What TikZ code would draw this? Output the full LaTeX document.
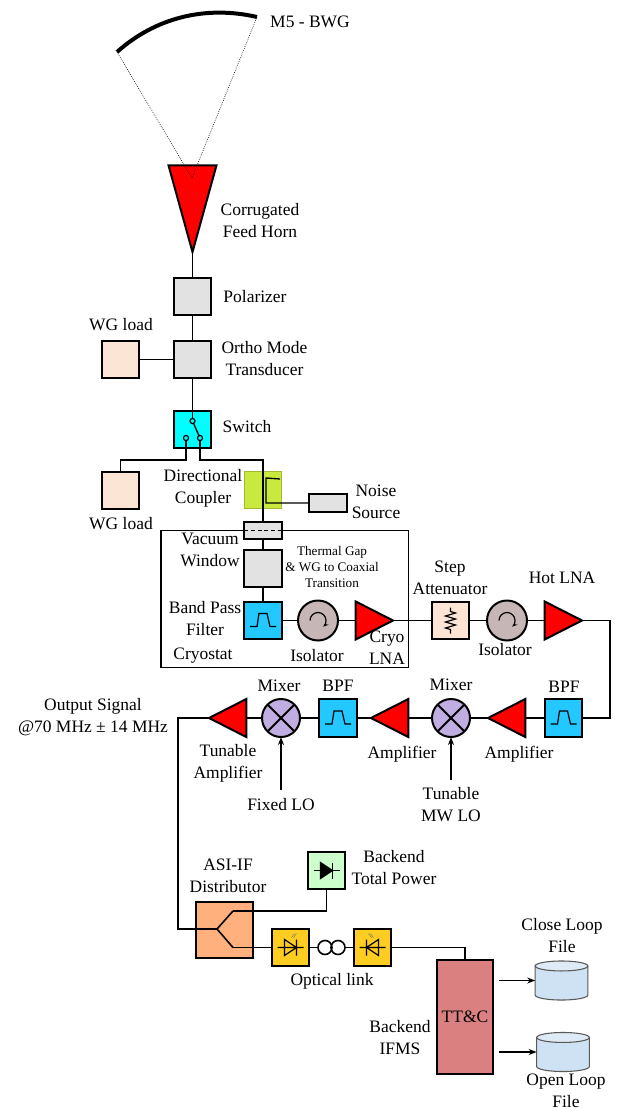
\documentclass[tikz,border=0pt]{standalone}
\usepackage{fontspec}
\setmainfont{Liberation Serif}
\usetikzlibrary{arrows.meta,shapes.geometric,calc}
\definecolor{boxgray}{HTML}{E2E2E2}
\definecolor{loadpeach}{HTML}{FDE5D6}
\definecolor{swicyan}{HTML}{00FFFF}
\definecolor{cplgreen}{HTML}{C9E93F}
\definecolor{bpfblue}{HTML}{22C8FF}
\definecolor{isotaupe}{HTML}{C6B6B6}
\definecolor{mixpurple}{HTML}{C0AEE2}
\definecolor{distorange}{HTML}{FFB07C}
\definecolor{tpgreen}{HTML}{CCFFCC}
\definecolor{ledyellow}{HTML}{FFCC22}
\definecolor{ttcred}{HTML}{DA8080}
\definecolor{filebody}{HTML}{CFE2F3}
\definecolor{filetop}{HTML}{DEEAF6}
\newcommand{\filedrum}[1]{
  \draw[draw=black!65, line width=0.8pt, fill=filebody] ([yshift=10.9pt]#1.west) -- ([yshift=-10.9pt]#1.west)
    arc[start angle=180, end angle=360, x radius=19.75pt, y radius=3.75pt] -- ([yshift=10.9pt]#1.east);
  \draw[draw=black!65, line width=0.8pt, fill=filetop] ([yshift=10.9pt]#1.center) ellipse[x radius=19.75pt, y radius=3.75pt];
}
\tikzset{
  >=Stealth,
  lbl/.style={font=\fontsize{13.1}{16.5}\selectfont, align=center, inner sep=0pt},
  lblsm/.style={font=\fontsize{9.9}{12}\selectfont, align=center, inner sep=0pt},
  blk/.style={draw, line width=1.5pt, inner sep=0pt, outer sep=0pt, minimum size=28pt},
  wire/.style={line width=1pt},
  amp/.style={isosceles triangle, isosceles triangle stretches, draw, line width=1.5pt, fill=red,
    inner sep=0pt, outer sep=0pt, minimum width=28.5pt, minimum height=28pt, anchor=apex},
  bpf/.style={blk, fill=bpfblue, path picture={
    \draw[line width=0.9pt, shift={(path picture bounding box.center)}]
      (-13,6)--(-6,6)--(-4,-7)--(4,-7)--(7,6)--(13,6);}},
  iso/.style={circle, draw, line width=1.5pt, fill=isotaupe, inner sep=0pt, outer sep=0pt, minimum size=30pt, path picture={
    \draw[line width=0.9pt, -{Stealth[length=4pt]}, shift={(path picture bounding box.center)}]
      (-8,0) arc[start angle=180, end angle=-50, radius=6pt];}},
  mix/.style={circle, draw, line width=1.5pt, fill=mixpurple, inner sep=0pt, outer sep=0pt, minimum size=28.5pt, path picture={
    \draw[line width=1.5pt] (path picture bounding box.north west)--(path picture bounding box.south east)
      (path picture bounding box.north east)--(path picture bounding box.south west);}},
  contact/.style={circle, draw, line width=0.9pt, inner sep=0pt, outer sep=0pt, minimum size=3.8pt},
  file/.style={inner sep=0pt, outer sep=0pt, minimum width=39.5pt, minimum height=29.5pt}
}

\begin{document}
\begin{tikzpicture}[x=0.75pt, y=-0.75pt]
  \useasboundingbox (0,0) rectangle (618,1109);
  % cryostat goes first, the parts sit on it
  \node[draw, line width=1pt, minimum width=185.5pt, minimum height=102.5pt, inner sep=0pt, outer sep=0pt] (cryo) at (284.5,599) {};
  % reflector and horn
  \coordinate (mirl) at (117,52);
  \coordinate (mirr) at (257,17);
  \coordinate (hornfoc) at (192,178);
  \node[amp, shape border rotate=270, minimum width=36pt, minimum height=65pt] (horn) at (192.5,252) {};
  \draw[line width=3pt] (mirl) .. controls (155,18) and (205,5) .. (mirr);
  \draw[line width=0.5pt, densely dotted] (mirl) -- (hornfoc) -- (mirr);
  % waveguide chain
  \node[blk, fill=boxgray] (pol) at (192.5,296.5) {};
  \node[blk, fill=boxgray] (omt) at (192.5,359.5) {};
  \node[blk, fill=loadpeach] (wga) at (120.5,359.5) {};
  \node[blk, fill=swicyan] (swi) at (192.5,429.5) {};
  \node[contact] (swt) at (192.5,421) {};
  \node[contact] (swl) at (186,438) {};
  \node[contact] (swr) at (200,438) {};
  \node[blk, fill=loadpeach] (wgb) at (120.5,490.5) {};
  \node[draw=cplgreen!80!black, line width=0.5pt, fill=cplgreen, minimum size=28pt, inner sep=0pt, outer sep=0pt] (cpl) at (263,490) {};
  \node[blk, fill=boxgray, minimum width=28.5pt, minimum height=13.5pt] (noise) at (328,503) {};
  \node[blk, fill=boxgray, minimum height=12.5pt] (vac) at (263,530.5) {};
  \node[blk, fill=boxgray] (thm) at (263,568.5) {};
  \coordinate (busl) at (120.5,460);
  \coordinate (busr) at (263,460);
  \coordinate (cplcor) at (266,478);
  \coordinate (cpltip) at (280,479);
  % cold and warm chain
  \node[bpf] (bpfa) at (263,620.5) {};
  \node[iso] (isoa) at (318,620.5) {};
  \node[amp] (lnaa) at (393,620.5) {};
  \node[blk, fill=loadpeach, path picture={
    \draw[line width=0.9pt, shift={(path picture bounding box.center)}]
      (0,-13)--(0,-9)--(5,-7.5)--(-5,-4.5)--(5,-1.5)--(-5,1.5)--(5,4.5)--(-5,7.5)--(0,9)--(0,13);}] (att) at (450.5,620.5) {};
  \node[iso] (isob) at (507,620.5) {};
  \node[amp] (lnab) at (582,620.5) {};
  \coordinate (rgt) at (610,620.5);
  \node[bpf] (bpfb) at (563.5,718) {};
  \node[amp, shape border rotate=180] (ampa) at (488,718) {};
  \node[mix] (mixa) at (451,718) {};
  \node[amp, shape border rotate=180] (ampb) at (371,718) {};
  \node[bpf] (bpfc) at (338,718) {};
  \node[mix] (mixb) at (281,718) {};
  \node[amp, shape border rotate=180] (ampc) at (209,718) {};
  \coordinate (locb) at (281,790);
  \coordinate (loca) at (451,780);
  \coordinate (outa) at (178,718);
  \coordinate (outb) at (178,929);
  % distribution
  \node[blk, fill=distorange, minimum width=42.5pt, minimum height=42pt] (dist) at (224.5,930) {};
  \coordinate (frk) at (217,929);
  \coordinate (frku) at (233,911);
  \coordinate (frkl) at (233,947.5);
  \node[blk, fill=tpgreen, path picture={
    \draw[line width=0.9pt, shift={(path picture bounding box.center)}] (-13,0)--(13,0);
    \draw[line width=0.9pt, fill=black, shift={(path picture bounding box.center)}] (-6,-8)--(-6,8)--(6,0)--cycle;
    \draw[line width=1.1pt, shift={(path picture bounding box.center)}] (6,-8)--(6,8);}] (tpw) at (326.5,870.5) {};
  \node[blk, fill=ledyellow, path picture={
    \draw[line width=0.9pt, shift={(path picture bounding box.center)}] (-13,0)--(13,0) (6,-8)--(6,8) (-6,-8)--(-6,8)--(6,0)--cycle;
    \draw[line width=0.3pt, black!60, shift={(path picture bounding box.center)}] (1,-10)--(4,-14) (3,-10)--(6,-14);}] (ledt) at (290.5,947.5) {};
  \node[blk, fill=ledyellow, path picture={
    \draw[line width=0.9pt, shift={(path picture bounding box.center)}] (-13,0)--(13,0) (-6,-8)--(-6,8) (6,-8)--(6,8)--(-6,0)--cycle;
    \draw[line width=0.3pt, black!60, shift={(path picture bounding box.center)}] (-4,-14)--(-1,-10) (-2,-14)--(1,-10);}] (ledr) at (372.5,947.5) {};
  \node[circle, draw, line width=1.2pt, minimum size=10.5pt, inner sep=0pt, outer sep=0pt] (fba) at (325,947.5) {};
  \node[circle, draw, line width=1.2pt, minimum size=10.5pt, inner sep=0pt, outer sep=0pt] (fbb) at (338,947.5) {};
  \node[blk, fill=ttcred, minimum width=42pt, minimum height=85.5pt, font=\fontsize{13.1}{16.5}\selectfont] (ttc) at (465,1017) {TT\&C};
  \node[file] (fcl) at (561.5,980.5) {};
  \node[file] (fol) at (563,1052) {};
  \filedrum{fcl}
  \filedrum{fol}
  % connectors
  \draw[wire] (horn.apex) -- (pol.north);
  \draw[wire] (pol.south) -- (omt.north);
  \draw[wire] (wga.east) -- (omt.west);
  \draw[wire] (omt.south) -- (swt.north);
  \draw[wire] (swt) -- (swr);
  \draw[wire] (swl.south) |- (busl) -- (wgb.north);
  \draw[wire] (swr.south) |- (busr) -- (vac.north);
  \draw[wire] (noise.west) -| (cplcor) -- (cpltip);
  \draw[line width=0.5pt, densely dashed] (vac.west) -- (vac.east);
  \draw[wire] (vac.south) -- (thm.north);
  \draw[wire] (thm.south) -- (bpfa.north);
  \draw[wire] (bpfa.east) -- (isoa.west);
  \draw[wire] (isoa.east) -- (lnaa.lower side);
  \draw[wire] (lnaa.apex) -- (att.west);
  \draw[wire] (att.east) -- (isob.west);
  \draw[wire] (isob.east) -- (lnab.lower side);
  \draw[wire] (lnab.apex) -- (rgt) |- (bpfb.east);
  \draw[wire] (bpfb.west) -- (ampa.lower side);
  \draw[wire] (ampa.apex) -- (mixa.east);
  \draw[wire] (mixa.west) -- (ampb.lower side);
  \draw[wire] (ampb.apex) -- (bpfc.east);
  \draw[wire] (bpfc.west) -- (mixb.east);
  \draw[wire] (mixb.west) -- (ampc.lower side);
  \draw[wire] (ampc.apex) -- (outa) -- (outb) -- (frk);
  \draw[wire, -{Stealth[length=6pt]}] (locb) -- (mixb.south);
  \draw[wire, -{Stealth[length=6pt]}] (loca) -- (mixa.south);
  \draw[line width=1.2pt] (frku) -- (frk) -- (frkl);
  \draw[wire] (frku) -| (tpw.south);
  \draw[wire] (frkl) -- (ledt.west);
  \draw[wire] (ledt.east) -- (fba.west);
  \draw[wire] (fbb.east) -- (ledr.west);
  \draw[wire] (ledr.east) -| (ttc.north);
  \draw[line width=1.2pt, -{Stealth[length=6pt]}] ([xshift=4.5pt]ttc.east |- fcl.center) -- (fcl.west);
  \draw[line width=1.2pt, -{Stealth[length=6pt]}] ([xshift=4.5pt]ttc.east |- fol.center) -- (fol.west);
  % labels
  \node[lbl] (lm5) at (310,22) {M5 - BWG};
  \node[lbl] (lhorn) at (260,220.5) {Corrugated\\Feed Horn};
  \node[lbl] (lpol) at (255,297) {Polarizer};
  \node[lbl] (lwga) at (121,325) {WG load};
  \node[lbl] (lomt) at (264.5,359) {Ortho Mode\\Transducer};
  \node[lbl] (lswi) at (247,427) {Switch};
  \node[lbl] (lcpl) at (203,488) {Directional\\Coupler};
  \node[lbl] (lwgb) at (121,524) {WG load};
  \node[lbl] (lnoise) at (376,502) {Noise\\Source};
  \node[lbl] (lvac) at (210,550) {Vacuum\\Window};
  \node[lblsm] (lthm) at (332,567) {Thermal Gap\\\& WG to Coaxial\\Transition};
  \node[lbl] (lbpfa) at (205,619) {Band Pass\\Filter};
  \node[lbl] (lcryo) at (203,656) {Cryostat};
  \node[lbl] (lisoa) at (317,656) {Isolator};
  \node[lbl] (llnaa) at (387,648) {Cryo\\LNA};
  \node[lbl] (latt) at (450,578) {Step\\Attenuator};
  \node[lbl] (lisob) at (505,650) {Isolator};
  \node[lbl] (llnab) at (562,578) {Hot LNA};
  \node[lbl] (lmixa) at (451,685) {Mixer};
  \node[lbl] (lbpfb) at (564,687) {BPF};
  \node[lbl] (lmixb) at (279,686) {Mixer};
  \node[lbl] (lbpfc) at (338,686) {BPF};
  \node[lbl] (lampa) at (519,754) {Amplifier};
  \node[lbl] (lampb) at (402,754) {Amplifier};
  \node[lbl] (lampc) at (228,763) {Tunable\\Amplifier};
  \node[lbl] (llob) at (281,805) {Fixed LO};
  \node[lbl] (lloa) at (451,804.5) {Tunable\\MW LO};
  \node[lbl] (lout) at (93,717.5) {Output Signal\\@70 MHz ± 14 MHz};
  \node[lbl] (ldist) at (228,875.5) {ASI-IF\\Distributor};
  \node[lbl] (ltpw) at (394,868) {Backend\\Total Power};
  \node[lbl] (lopt) at (332,981) {Optical link};
  \node[lbl] (lifms) at (400,1037.5) {Backend\\IFMS};
  \node[lbl] (lfcl) at (562,936) {Close Loop\\File};
  \node[lbl] (lfol) at (566,1090.5) {Open Loop\\File};
\end{tikzpicture}
\end{document}
